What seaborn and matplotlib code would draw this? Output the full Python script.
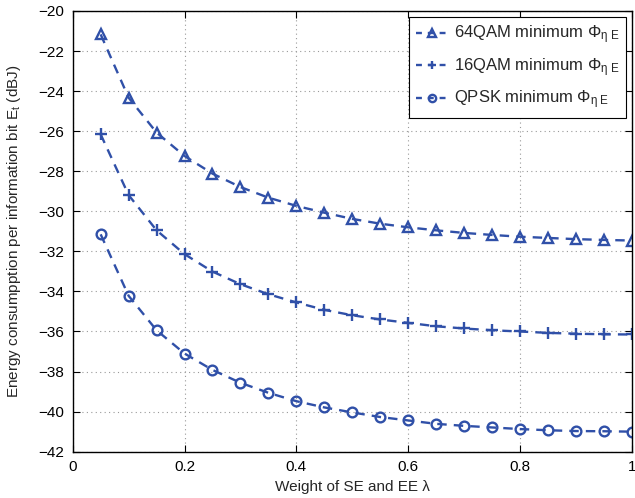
import matplotlib
matplotlib.use("Agg")
import matplotlib.pyplot as plt
import numpy as np
import pandas as pd
import seaborn as sns

# weight lambda between SE and EE
lam = [0.05, 0.10, 0.15, 0.20, 0.25, 0.30, 0.35, 0.40, 0.45, 0.50,
       0.55, 0.60, 0.65, 0.70, 0.75, 0.80, 0.85, 0.90, 0.95, 1.00]

qam64 = [-21.17, -24.33, -26.07, -27.24, -28.12, -28.79, -29.32, -29.73, -30.07, -30.38,
         -30.62, -30.80, -30.95, -31.08, -31.18, -31.27, -31.33, -31.39, -31.43, -31.46]
qam16 = [-26.16, -29.19, -30.95, -32.14, -33.01, -33.64, -34.14, -34.55, -34.92, -35.19,
         -35.40, -35.57, -35.74, -35.85, -35.94, -36.00, -36.07, -36.11, -36.14, -36.15]
qpsk = [-31.15, -34.22, -35.94, -37.10, -37.92, -38.56, -39.06, -39.48, -39.79, -40.04,
        -40.27, -40.44, -40.61, -40.71, -40.79, -40.87, -40.93, -40.97, -40.98, -41.00]

labels = [r"64QAM minimum Φ$_{\mathregular{η\ E}}$",
          r"16QAM minimum Φ$_{\mathregular{η\ E}}$",
          r"QPSK minimum Φ$_{\mathregular{η\ E}}$"]
markers = ["^", "+", "o"]

sns.set_theme(style="ticks")
plt.rcParams["font.family"] = ["Liberation Sans", "DejaVu Sans"]
plt.rcParams["mathtext.fontset"] = "custom"
plt.rcParams["mathtext.rm"] = "Liberation Sans"
plt.rcParams["mathtext.it"] = "Liberation Sans"
plt.rcParams["mathtext.bf"] = "Liberation Sans:bold"

blue = "#3050a8"

fig = plt.figure(figsize=(6.35, 4.98), dpi=100)
ax = fig.add_axes([0.1145, 0.093, 0.8805, 0.885])

for ys, lab, mk in zip([qam64, qam16, qpsk], labels, markers):
    df = pd.DataFrame({"lam": lam, "E": ys})
    sns.lineplot(data=df, x="lam", y="E", ax=ax, color=blue,
                 lw=1.7, marker=mk, markersize=7 if mk != "+" else 8,
                 markerfacecolor="none", markeredgecolor=blue,
                 markeredgewidth=1.7, label=lab)
for line in ax.get_lines():
    line.set_linestyle((0, (4, 3)))

ax.set_xlim(0, 1)
ax.set_ylim(-42, -20)
ax.set_xticks(np.arange(0, 1.01, 0.2))
ax.set_xticklabels(["0", "0.2", "0.4", "0.6", "0.8", "1"])
ax.set_yticks(np.arange(-42, -19, 2))
ax.grid(True, linestyle=(0, (1, 3)), color="#999999", lw=0.8)
ax.tick_params(direction="in", length=5, width=0.8, labelsize=11,
               top=True, right=True, colors="black", pad=6)
for s in ax.spines.values():
    s.set_visible(True)
    s.set_color("black")
    s.set_linewidth(1.0)

ax.set_xlabel("Weight of SE and EE λ", fontsize=11, labelpad=4)
ax.set_ylabel(r"Energy consumpption per information bit E$_{\mathregular{t}}$ (dBJ)",
              fontsize=11, labelpad=11)

leg = ax.legend(loc="upper right", fontsize=12, frameon=True, fancybox=False,
                edgecolor="black", framealpha=1, handlelength=2.0,
                handletextpad=0.3, markerscale=0.75,
                borderaxespad=0.35, labelspacing=0.6, borderpad=0.4)
leg.get_frame().set_linewidth(0.8)
for h in leg.get_lines():
    h.set_linestyle((0, (2.5, 2.5)))

fig.savefig("out.png", dpi=100)
